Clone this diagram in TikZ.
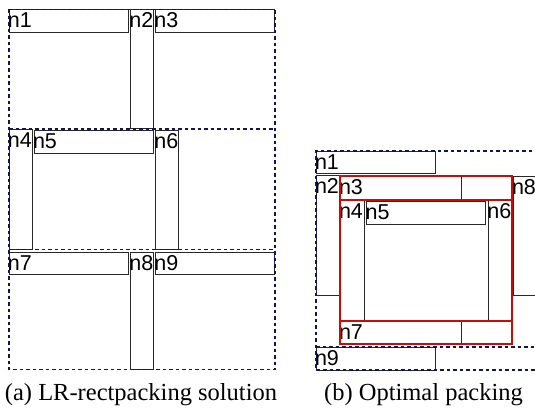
\documentclass[tikz,border=0pt]{standalone}
\usepackage{fontspec}
\setmainfont{Liberation Serif}
\newfontfamily\lblfont{Liberation Sans}
\definecolor{navy}{RGB}{20,20,80}
\definecolor{redfr}{RGB}{205,10,10}
\definecolor{boxc}{RGB}{40,40,40}
\tikzset{
  bxs/.style={draw=boxc, line width=1pt, inner sep=0pt, outer sep=0pt, fill=none},
  lbl/.style={inner sep=0pt, outer sep=0pt, font=\lblfont\fontsize{21.5}{21.5}\selectfont},
  dsh/.style={draw=navy, line width=1.7pt, dash pattern=on 3.5pt off 3pt},
  redline/.style={draw=redfr, line width=2.2pt},
  captxt/.style={inner sep=0pt, font=\fontsize{24.5}{24.5}\selectfont}
}
\newcommand{\bx}[6]{%
  \node[bxs, minimum width=#4pt, minimum height=#5pt, anchor=north west] (#1) at (#2,#3) {};
  \node[lbl, anchor=base west] (#1t) at ([xshift=-1pt,yshift=-18pt]#1.north west) {#6};}
\begin{document}
\begin{tikzpicture}[x=1pt,y=-1pt]
\useasboundingbox (0,0) rectangle (535,412);
\clip (0,0) rectangle (535,412);
% ---------- left panel ----------
\bx{a1}{9}{9.5}{119}{23}{n1}
\bx{a2}{130.3}{9.5}{23}{118.5}{n2}
\bx{a3}{155.3}{9.5}{118.7}{23}{n3}
\bx{a4}{9}{129.5}{23}{119.5}{n4}
\bx{a5}{34}{130}{119.3}{23.3}{n5}
\bx{a6}{155.3}{130}{23}{119}{n6}
\bx{a7}{9}{252.3}{119}{22.4}{n7}
\bx{a8}{130.3}{252}{23}{117}{n8}
\bx{a9}{155.3}{252.3}{118.7}{22.4}{n9}
\coordinate (L1) at (9,9.5);
\coordinate (L2) at (275,369.5);
\coordinate (La) at (9,129);
\coordinate (Lb) at (275,129);
\coordinate (Lc) at (9,249.5);
\coordinate (Ld) at (275,249.5);
\draw[dsh] (L1) rectangle (L2);
\draw[dsh] (La) -- (Lb);
\draw[dsh] (Lc) -- (Ld);
% ---------- right panel ----------
\bx{b1}{316}{151}{119.3}{22.7}{n1}
\bx{b2}{316}{175.7}{23}{119.3}{n2}
\bx{b3}{340}{176}{121}{24}{n3}
\draw[bxs] (461,176) rectangle (512,200);
\bx{b8}{513}{176}{23}{119}{n8}
\bx{b4}{340}{200}{24.3}{121}{n4}
\bx{b5}{366.7}{201.7}{119}{22.6}{n5}
\bx{b6}{488.3}{200}{23.4}{121}{n6}
\bx{b7}{340}{321.5}{121}{22.8}{n7}
\draw[bxs] (461,321.5) rectangle (512,344.3);
\bx{b9}{316}{347}{119.3}{23}{n9}
\coordinate (R1) at (316,151);
\coordinate (R2) at (545,151);
\coordinate (R3) at (316,370);
\coordinate (R4) at (545,370);
\coordinate (R5) at (316,347);
\coordinate (R6) at (545,347);
\draw[dsh] (R2) -- (R1) -- (R3) -- (R4);
\draw[dsh] (R5) -- (R6);
\coordinate (F1) at (340.3,176.3);
\coordinate (F2) at (511.7,344.3);
\coordinate (F3) at (340.3,200);
\coordinate (F4) at (511.7,200);
\coordinate (F5) at (340.3,321.3);
\coordinate (F6) at (511.7,321.3);
\draw[redline] (F1) rectangle (F2);
\draw[redline] (F3) -- (F4);
\draw[redline] (F5) -- (F6);
% ---------- captions ----------
\node[captxt, anchor=base] (capa) at (141,400) {(a) LR-rectpacking solution};
\node[captxt, anchor=base] (capb) at (423.5,400) {(b) Optimal packing};
\end{tikzpicture}
\end{document}
